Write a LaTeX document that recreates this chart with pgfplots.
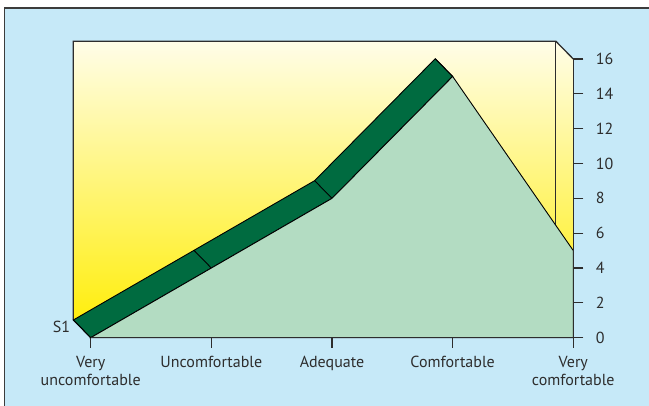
\documentclass[border=0pt]{standalone}
\usepackage{fontspec}
\setmainfont{PT Sans}
\usepackage{pgfplots}
\pgfplotsset{compat=1.18}
\usepackage{pgfplotstable}
\usepgfplotslibrary{fillbetween}
\definecolor{bgblue}{RGB}{198,233,248}
\definecolor{facegreen}{RGB}{179,220,194}
\definecolor{bandgreen}{RGB}{0,107,64}
\definecolor{wallyellow}{RGB}{255,237,0}
\definecolor{wallpale}{RGB}{255,253,232}
\definecolor{linegray}{RGB}{45,45,45}
\definecolor{framegray}{RGB}{60,60,60}

\pgfplotstableread{
x y
0 0
1 4
2 8
3 15
4 5
}\datatable

\begin{document}
\begin{tikzpicture}
\fill[white] (0,0) rectangle (649pt,-405pt);
\fill[bgblue] (4.7pt,-8pt) rectangle (660pt,-420pt);
\draw[line width=1.2pt, framegray] (4.7pt,-420pt) -- (4.7pt,-8pt) -- (660pt,-8pt);
\begin{axis}[
  at={(90.7pt,-337.7pt)}, anchor=south west,
  scale only axis, width=482.6pt, height=278.7pt,
  xmin=0, xmax=4, ymin=0, ymax=16,
  clip=false, axis on top,
  fill between/on layer=main,
  axis x line*=bottom, axis y line*=right,
  axis line style={linegray, line width=1.3pt},
  tick style={linegray, line width=1.1pt},
  tick align=outside, major tick length=10pt,
  xtick={0,1,2,3,4},
  xticklabels={{Very\\uncomfortable},{Uncomfortable},{Adequate},{Comfortable},{Very\\comfortable}},
  xticklabel style={align=center, font=\fontsize{16}{18.5}\selectfont, text=linegray, yshift=-5pt},
  ytick={0,2,...,16},
  yticklabel style={font=\fontsize{16}{18}\selectfont, text=linegray, xshift=9pt},
  /pgf/number format/assume math mode=true,
]
% walls (back + right side)
\path[bottom color=wallyellow, top color=wallpale]
  (axis cs:-0.144,1.016) -- (axis cs:-0.144,17.016) -- (axis cs:3.856,17.016)
  -- (axis cs:4,16) -- (axis cs:4,0) -- (axis cs:3.856,1.016) -- cycle;
\draw[linegray, line width=1.3pt] (axis cs:-0.144,1.016) -- (axis cs:-0.144,17.016)
  -- (axis cs:3.856,17.016) -- (axis cs:4,16);
\draw[linegray, line width=1pt] (axis cs:3.856,17.016) -- (axis cs:3.856,1.016);
% band (top face)
\addplot[name path=front, draw=none, skip coords between index={4}{5}] table[x=x,y=y] {\datatable};
\addplot[name path=back, draw=none, skip coords between index={4}{5}]
  table[x expr=\thisrow{x}-0.144, y expr=\thisrow{y}+1.016] {\datatable};
\addplot[fill=bandgreen, draw=black, line width=0.9pt] fill between[of=front and back];
\addplot[draw=black, line width=0.9pt, quiver={u=-0.144, v=1.016}, skip coords between index={4}{5}]
  table[x=x,y=y] {\datatable};
% front face
\addplot[fill=facegreen, draw=black, line width=0.9pt] table[x=x,y=y] {\datatable} \closedcycle;
\node[anchor=east, inner sep=0pt, text=linegray, font=\fontsize{16}{18}\selectfont] at (axis cs:-0.17,0.62) {S1};
\end{axis}
\pgfresetboundingbox
\path[use as bounding box] (0,0) rectangle (649pt,-405pt);
\end{tikzpicture}
\end{document}
